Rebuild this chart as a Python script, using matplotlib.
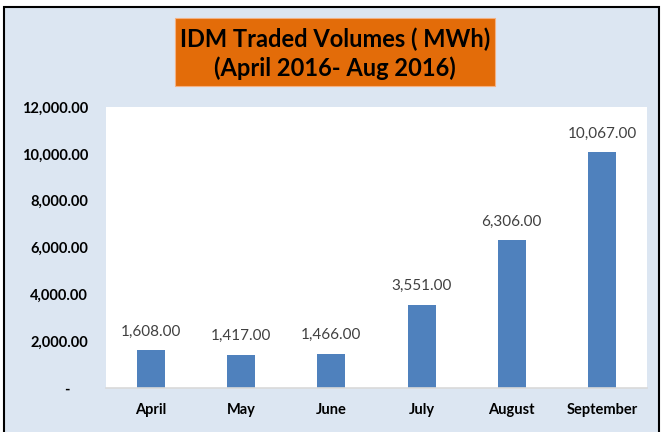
import matplotlib.pyplot as plt
from matplotlib.patches import Rectangle

months = ["April", "May", "June", "July", "August", "September"]
volumes = [1608, 1417, 1466, 3551, 6306, 10067]
yticks = [0, 2000, 4000, 6000, 8000, 10000, 12000]

plt.rcParams['font.family'] = ['Lato', 'DejaVu Sans']

fig = plt.figure(figsize=(6.62, 4.32), dpi=100)
fig.patch.set_facecolor("white")

# light blue panel with black frame (open to the right and bottom)
fig.patches.append(Rectangle((4 / 662, -0.01), 0.99, 425 / 432 + 0.01, transform=fig.transFigure,
                             facecolor="#dce6f2", edgecolor="black", linewidth=1.5, zorder=-1))

ax = fig.add_axes([106 / 662, 1 - 388 / 432, 541 / 662, 281 / 432])
ax.set_facecolor("white")
x = range(len(months))
ax.bar(x, volumes, width=0.31, color="#4f81bd")
for i, v in enumerate(volumes):
    ax.text(i, v + 500, f"{v:,.2f}", ha="center", va="bottom", fontsize=11, color="#404040")

ax.set_xlim(-0.5, len(months) - 0.5)
ax.set_ylim(0, 12000)
ax.set_yticks(yticks)
ax.set_yticklabels(["-     " if t == 0 else f"{t:,.2f}" for t in yticks], fontsize=10.5, fontweight="bold")
ax.set_xticks(list(x))
ax.set_xticklabels(months, fontsize=10.5, fontweight="bold")
ax.tick_params(length=0, pad=13)
ax.tick_params(axis="x", pad=11)
for s in ["top", "right", "left"]:
    ax.spines[s].set_visible(False)
ax.spines["bottom"].set_color("#d9d9d9")
ax.spines["bottom"].set_linewidth(1.2)

# title box
fig.patches.append(Rectangle((175 / 662, 1 - 86 / 432), 320 / 662, 68 / 432, transform=fig.transFigure,
                             facecolor="#e36c09", edgecolor="#f4b183", linewidth=0.8, zorder=2))
fig.text(335 / 662, 1 - 53.5 / 432, "IDM Traded Volumes ( MWh)\n(April 2016- Aug 2016)",
         ha="center", va="center", fontsize=17, fontweight="bold", linespacing=1.25, zorder=3)

fig.savefig("out.png", dpi=100)
